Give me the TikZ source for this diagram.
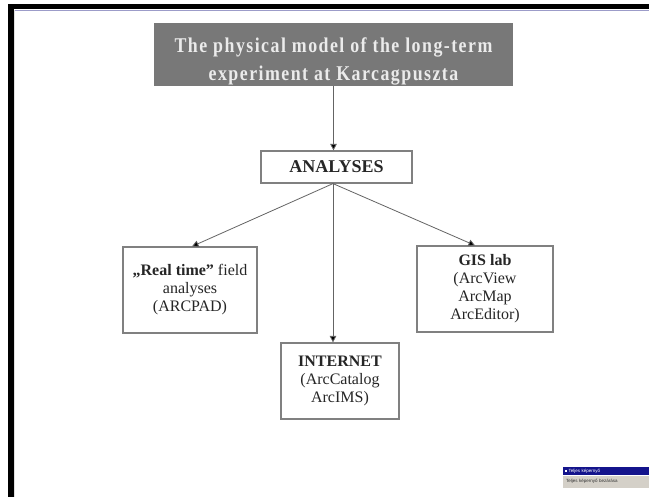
\documentclass[tikz,border=0pt]{standalone}
\usepackage{fontspec}
\setmainfont{Liberation Serif}
\newfontfamily\titlefont[FakeStretch=0.85,LetterSpace=7]{Liberation Serif}
\newfontfamily\menufont{Liberation Sans}
\usetikzlibrary{arrows.meta}

\definecolor{boxgray}{RGB}{128,128,128}
\definecolor{titlegray}{RGB}{120,120,120}
\definecolor{linegray}{RGB}{100,100,100}
\definecolor{menublue}{RGB}{20,20,140}
\definecolor{menugray}{RGB}{212,208,200}

\tikzset{
    ibox/.style={draw=boxgray,line width=1.2pt,fill=white,inner sep=0pt,align=center,
        font=\fontsize{16}{18}\selectfont,text=black!85},
    link/.style={draw=linegray,line width=0.8pt,-{Triangle[length=6.5pt,width=6.5pt,fill=black]}},
    menubar/.style={text width=82pt,inner xsep=2pt,inner ysep=0pt,align=left,anchor=north west,
        font=\menufont\fontsize{4.5}{5}\selectfont},
}

\begin{document}
\begin{tikzpicture}[x=1pt,y=-1pt]
        \useasboundingbox (0,0) rectangle (649,497);
        \fill[white] (0,0) rectangle (649,497);
        % screen frame
        \fill[black] (8,4) rectangle (649,9.5);
        \fill[black] (8,4) rectangle (13.5,497);
        \draw[blue!30!gray!60,line width=0.8pt] (14,10.5)--(649,10.5);
        \draw[gray!25,line width=0.8pt] (14.5,10.5)--(14.5,497);
        % boxes
        \node[fill=titlegray,minimum width=359pt,minimum height=63pt,inner sep=0pt] (model) at (333.5,54.5) {};
        \node[align=center,inner sep=0pt,text=white!92!black,
            font=\titlefont\fontsize{21}{28}\selectfont\bfseries] (modeltext) at ([yshift=-7pt]model.center)
            {The physical model of the long-term\\experiment at Karcagpuszta};
        \node[ibox,minimum width=151pt,minimum height=32pt,font=\fontsize{18}{20}\selectfont\bfseries]
            (analyses) at (336.5,167) {ANALYSES};
        \node[ibox,minimum width=134pt,minimum height=86pt] (realtime) at (190,290)
            {\textbf{„Real time”} field\\analyses\\(ARCPAD)};
        \node[ibox,minimum width=118pt,minimum height=76pt] (internet) at (340,381)
            {\textbf{INTERNET}\\(ArcCatalog\\ArcIMS)};
        \node[ibox,minimum width=136pt,minimum height=86pt] (gislab) at (485,289)
            {\textbf{GIS lab}\\(ArcView\\ArcMap\\ArcEditor)};
        % connectors
        \draw[link] (model.south -| analyses.south) ++(-3,0) coordinate (m0) -- (m0 |- analyses.north);
        \draw[link] ([xshift=-3.5pt]analyses.south) -- ([xshift=2pt]realtime.north);
        \draw[link] ([xshift=-3.5pt]analyses.south) -- ([xshift=-10pt]gislab.north);
        \draw[link] ([xshift=-3.5pt]analyses.south) -- ([xshift=-7pt]internet.north);
        % full screen menu
        \node[menubar,fill=menublue,text=white,minimum height=8pt] (fullon) at (563,467)
            {\rule[0.4pt]{1.8pt}{1.8pt}\ Teljes képernyő};
        \node[menubar,fill=menugray,text=black!80,minimum height=12pt] (fulloff) at (fullon.south west)
            {\hspace*{1pt}Teljes képernyő bezárása};
    \end{tikzpicture}
\end{document}
